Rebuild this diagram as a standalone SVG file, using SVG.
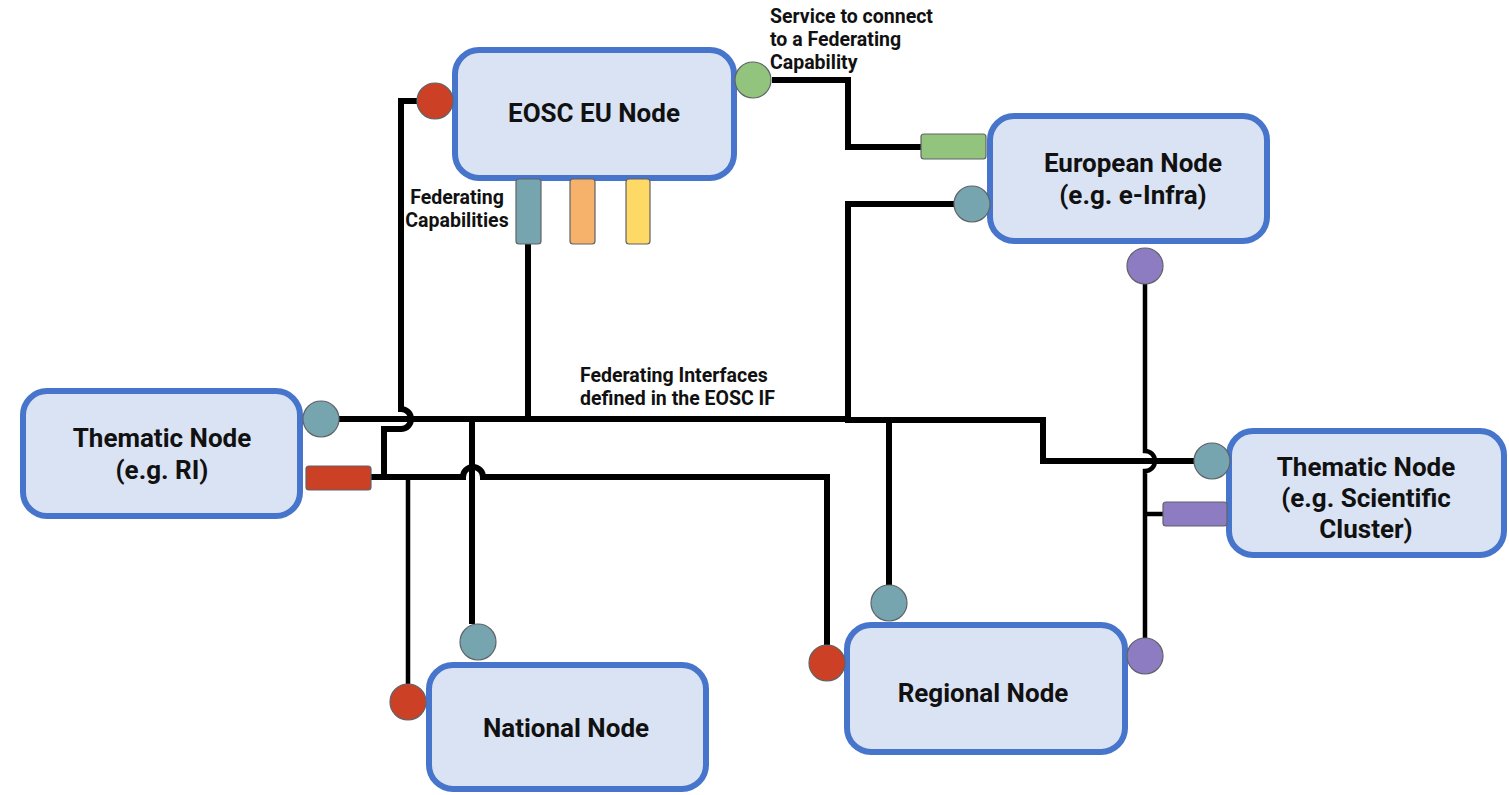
<svg xmlns="http://www.w3.org/2000/svg" width="1509" height="795" viewBox="0 0 1509 795">
<style>
.node{fill:#dae3f3;stroke:#4775cc;stroke-width:6}
.lbl{font-family:Roboto,"Liberation Sans",sans-serif;font-weight:bold;font-size:26px;fill:#111;text-anchor:middle}
.note{font-family:Roboto,"Liberation Sans",sans-serif;font-weight:bold;font-size:19.5px;fill:#111}
.wire{fill:none;stroke:#000;stroke-width:6;stroke-linejoin:miter}
.thin{stroke-width:4.5}
.port{stroke:#5f6368;stroke-width:1.2}
.red{fill:#cc4125}.teal{fill:#76a5af}.green{fill:#93c47d}.orange{fill:#f6b26b}.yellow{fill:#ffd966}.purple{fill:#8e7cc3}
</style>
<rect width="1509" height="795" fill="#fff"/>
<g id="connectors">
<path class="wire" d="M417,101 H401 V409 A10,10 0 0 1 401,429 H384 V477"/>
<path class="wire" d="M339,419 H848"/>
<path class="wire" d="M954,204 H848 V420 H1043 V461 H1194"/>
<path class="wire" d="M528,244 V419"/>
<path class="wire" d="M472,419 V624"/>
<path class="wire" d="M371,477 H463 A10,10 0 0 1 483,477 H827 V645"/>
<path class="wire thin" d="M408,477 V684"/>
<path class="wire" d="M889,420 V585"/>
<path class="wire" d="M772,80 H848 V147 H921"/>
<path class="wire thin" d="M1145,284 V451 A10,10 0 0 1 1145,471 V638"/>
<path class="wire thin" d="M1145,514 H1163"/>
</g>
<g id="eosc-eu-node">
<rect class="node" x="455" y="50" width="279" height="128" rx="24"/>
<text class="lbl" x="594" y="122">EOSC EU Node</text>
<rect class="port teal" x="516" y="179" width="25" height="65" rx="3"/>
<rect class="port orange" x="570" y="179" width="25" height="65" rx="3"/>
<rect class="port yellow" x="626" y="179" width="24" height="65" rx="3"/>
<circle class="port red" cx="435" cy="101" r="18"/>
<circle class="port green" cx="753" cy="80" r="18"/>
</g>
<g id="european-node">
<rect class="node" x="990" y="116" width="277" height="125" rx="24"/>
<text class="lbl" x="1133" y="172">European Node</text>
<text class="lbl" x="1133" y="204">(e.g. e-Infra)</text>
<rect class="port green" x="921" y="134" width="65" height="25" rx="3"/>
<circle class="port teal" cx="972" cy="204" r="18"/>
<circle class="port purple" cx="1145" cy="266" r="18"/>
</g>
<g id="thematic-node-ri">
<rect class="node" x="23" y="391" width="277" height="125" rx="24"/>
<text class="lbl" x="162" y="447">Thematic Node</text>
<text class="lbl" x="162" y="479">(e.g. RI)</text>
<circle class="port teal" cx="321" cy="419" r="18"/>
<rect class="port red" x="306" y="466" width="65" height="24" rx="3"/>
</g>
<g id="thematic-node-sc">
<rect class="node" x="1229" y="431" width="275" height="124" rx="24"/>
<text class="lbl" x="1366" y="476">Thematic Node</text>
<text class="lbl" x="1366" y="507">(e.g. Scientific</text>
<text class="lbl" x="1366" y="538">Cluster)</text>
<circle class="port teal" cx="1212" cy="461" r="18"/>
<rect class="port purple" x="1163" y="502" width="64" height="24" rx="3"/>
</g>
<g id="national-node">
<rect class="node" x="429" y="665" width="277" height="124" rx="24"/>
<text class="lbl" x="566" y="737">National Node</text>
<circle class="port teal" cx="478" cy="642" r="18"/>
<circle class="port red" cx="408" cy="702" r="18"/>
</g>
<g id="regional-node">
<rect class="node" x="847" y="625" width="278" height="127" rx="24"/>
<text class="lbl" x="983" y="702">Regional Node</text>
<circle class="port teal" cx="889" cy="603" r="18"/>
<circle class="port red" cx="827" cy="663" r="18"/>
<circle class="port purple" cx="1145" cy="656" r="18"/>
</g>
<g id="notes">
<text class="note" x="770" y="23">Service to connect</text>
<text class="note" x="770" y="46">to a Federating</text>
<text class="note" x="770" y="69">Capability</text>
<text class="note" x="457" y="204" text-anchor="middle">Federating</text>
<text class="note" x="457" y="227" text-anchor="middle">Capabilities</text>
<text class="note" x="580" y="382">Federating Interfaces</text>
<text class="note" x="580" y="405">defined in the EOSC IF</text>
</g>
</svg>
